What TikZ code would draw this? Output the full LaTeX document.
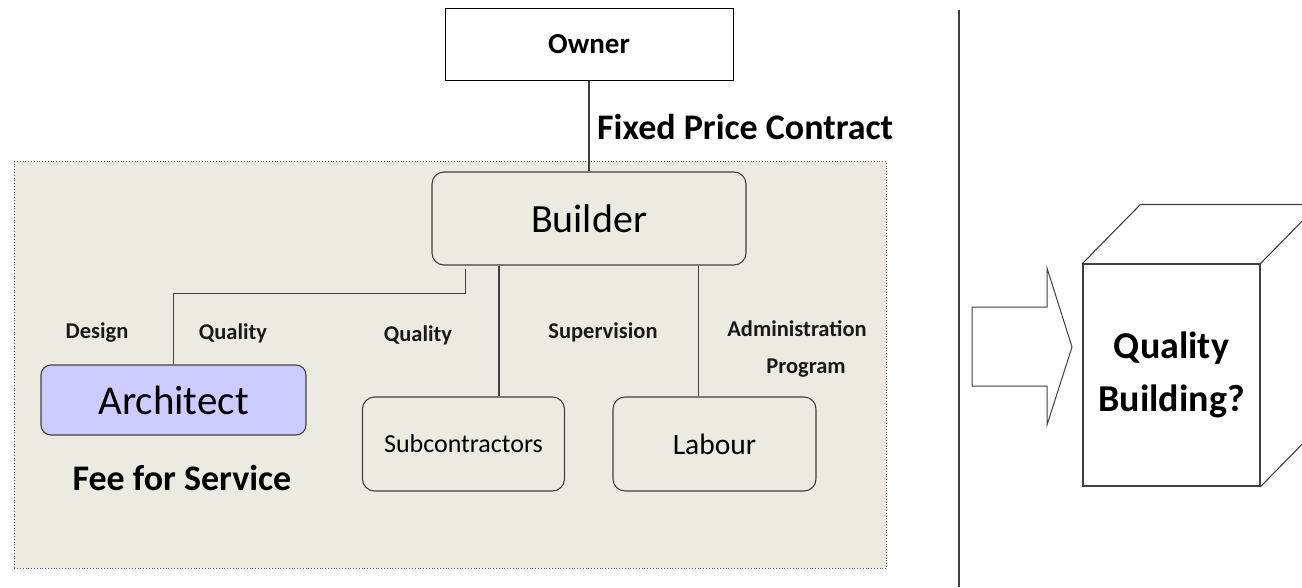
\documentclass[tikz,border=0pt]{standalone}
\usepackage{fontspec}
\setmainfont{Carlito}
\usetikzlibrary{calc}
\definecolor{panel}{HTML}{EDEBE1}
\definecolor{archfill}{HTML}{CCCCFF}
\definecolor{edge}{HTML}{404040}
\begin{document}
\begin{tikzpicture}[x=1pt,y=-1pt,
 box/.style={draw=edge, line width=1.1pt, rounded corners=12pt, inner sep=0pt, align=center},
 lbl/.style={font=\fontsize{22.5}{27}\selectfont\bfseries, inner sep=0pt, text=black!90},
 conn/.style={draw=edge, line width=1.1pt},
 big/.style={font=\fontsize{36}{42}\selectfont\bfseries, inner sep=0pt}]
\useasboundingbox[fill=white] (0,0) rectangle (1302,587);
\clip (0,0) rectangle (1302,587);
% panel
\node[draw=gray!70!black, dotted, fill=panel, line width=0.8pt, minimum width=872pt, minimum height=407pt, inner sep=0pt, anchor=north west] (panel) at (14,161) {};
% divider
\coordinate (dtop) at (959,10);
\coordinate (dbot) at (959,587);
\draw[edge, line width=1.1pt] (dtop) -- (dbot);
% nodes
\node[draw=black, line width=1pt, fill=white, minimum width=288pt, minimum height=72pt, inner sep=0pt, font=\fontsize{29}{34}\selectfont\bfseries] (owner) at (589,44) {Owner};
\node[box, minimum width=314pt, minimum height=93pt, font=\fontsize{40}{46}\selectfont] (builder) at (589,218.5) {Builder};
\node[box, fill=archfill, rounded corners=10pt, minimum width=265pt, minimum height=70pt, font=\fontsize{41}{48}\selectfont] (architect) at (173.5,400) {Architect};
\node[box, minimum width=202pt, minimum height=94pt, font=\fontsize{26}{31}\selectfont] (subc) at (463.5,444) {Subcontractors};
\node[box, minimum width=203pt, minimum height=94pt, font=\fontsize{29.5}{35}\selectfont] (labour) at (714.5,444) {Labour};
% big labels
\node[big, anchor=west] (fpc) at (597,127) {Fixed Price Contract};
\node[big] (ffs) at (182,478) {Fee for Service};
% small labels
\node[lbl] (design) at (97,333) {Design};
\node[lbl] (q1) at (233,333) {Quality};
\node[lbl] (q2) at (418,335) {Quality};
\node[lbl] (sup) at (603,332) {Supervision};
\node[lbl] (adm) at (797,329) {Administration};
\node[lbl] (prog) at (806,368) {Program};
% connectors
\draw[conn] (owner.south) -- (builder.north);
\coordinate (bA) at ($(builder.south west)+(34,3)$);
\draw[conn] (bA) -- ++(0,25) -| (architect.north);
\draw[conn] (subc.north -| 499,0) coordinate (sA) -- (sA |- builder.south);
\coordinate (lA) at ($(labour.north west)+(86,0)$);
\draw[conn] (lA) -- (lA |- builder.south);
% arrow
\draw[edge, line width=1pt] (972,307) -- (1047,307) -- (1047,268) -- (1072,347) -- (1047,425) -- (1047,386) -- (972,386) -- cycle;
% cube
\node[draw=edge, line width=1.1pt, minimum width=177pt, minimum height=222pt, inner sep=0pt, align=center, font=\fontsize{38}{53}\selectfont\bfseries] (cube) at (1171.5,375) {Quality\\Building?};
\coordinate (tl) at ($(cube.north west)+(58,-59)$);
\coordinate (tr) at ($(cube.north east)+(58,-59)$);
\coordinate (br) at ($(cube.south east)+(58,-59)$);
\draw[edge, line width=1.1pt] (cube.north west) -- (tl) -- (tr) -- (cube.north east);
\draw[edge, line width=1.1pt] (tr) -- (br) -- (cube.south east);
\end{tikzpicture}
\end{document}
